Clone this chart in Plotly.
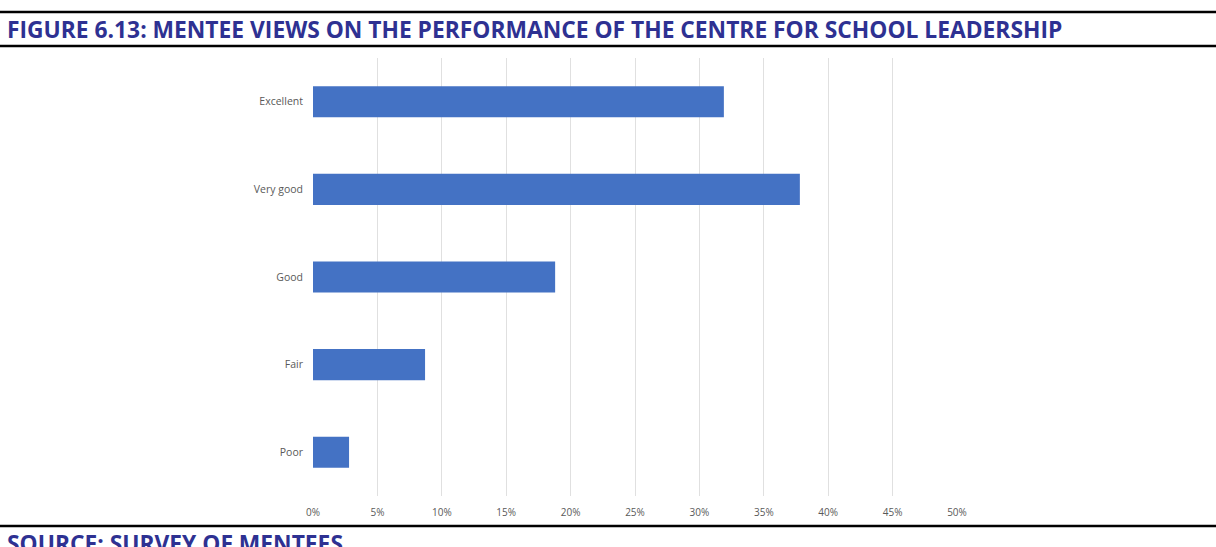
import plotly.graph_objects as go

categories = ["Excellent", "Very good", "Good", "Fair", "Poor"]
values = [31.9, 37.8, 18.8, 8.7, 2.8]
x_ticks = [0, 5, 10, 15, 20, 25, 30, 35, 40, 45, 50]
x_tick_labels = [f"{t}%" for t in x_ticks]

title_text = "FIGURE 6.13: MENTEE VIEWS ON THE PERFORMANCE OF THE CENTRE FOR SCHOOL LEADERSHIP"
source_text = "SOURCE: SURVEY OF MENTEES"

fig = go.Figure(go.Bar(
    y=categories, x=values, orientation="h",
    marker=dict(color="#4472C4", line=dict(width=0)),
    hoverinfo="skip",
))

W, H = 1216, 547
ml, mr, mt, mb = 313, 259, 58, 51

fig.update_layout(
    width=W, height=H,
    margin=dict(l=ml, r=mr, t=mt, b=mb, pad=0),
    paper_bgcolor="white", plot_bgcolor="white",
    bargap=0.645,
    showlegend=False,
    font=dict(family="Open Sans", color="#595959", size=10),
    xaxis=dict(
        range=[0, 50], tickvals=x_ticks, ticktext=x_tick_labels,
        showgrid=True, gridcolor="#e0e0e0", gridwidth=1,
        zeroline=False, showline=False, ticks="",
        ticklabelstandoff=9,
        tickfont=dict(size=10, color="#595959"),
        fixedrange=True,
    ),
    yaxis=dict(
        categoryorder="array", categoryarray=categories[::-1],
        showgrid=False, zeroline=False, showline=False, ticks="",
        ticklabelstandoff=9,
        tickfont=dict(size=10.5, color="#595959"),
        fixedrange=True,
    ),
)

def py(pix):
    # convert pixel y (from top of page) to paper coords
    return (H - mb - pix) / (H - mt - mb)

def px(pix):
    return (pix - ml) / (W - ml - mr)

line_style = dict(color="black", width=2.5)
for yy in (12, 46, 526):
    fig.add_shape(type="line", xref="paper", yref="paper",
                  x0=px(0), x1=px(W), y0=py(yy), y1=py(yy), line=line_style)

fig.add_annotation(text=title_text, xref="paper", yref="paper",
                   x=px(5), y=py(29), xanchor="left", yanchor="middle",
                   showarrow=False,
                   font=dict(family="Open Sans", size=22.8, color="#2E3192", weight="bold"))
fig.add_annotation(text=source_text, xref="paper", yref="paper",
                   x=px(5), y=py(543), xanchor="left", yanchor="middle",
                   showarrow=False,
                   font=dict(family="Open Sans", size=22.8, color="#2E3192", weight="bold"))

fig.write_html(
    "out.html",
    config={"displayModeBar": False},
    post_script="document.body.style.margin='0';document.body.style.padding='0';",
)
